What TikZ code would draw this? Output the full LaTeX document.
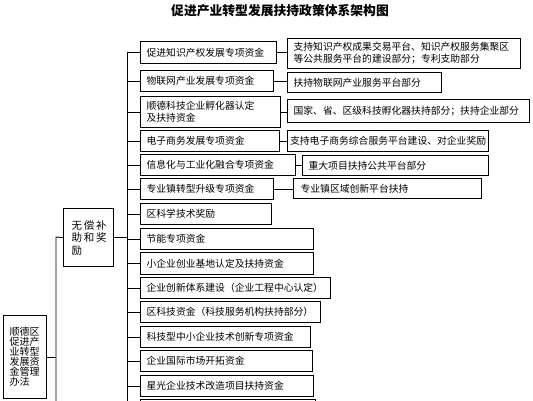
\documentclass[tikz,border=0pt]{standalone}
\usepackage{fontspec}
\newfontfamily\cjk{Noto Sans CJK SC}
\begin{document}
\begin{tikzpicture}[x=1pt,y=-1pt,
  box/.style={draw, line width=1.2pt, inner xsep=6pt, inner ysep=0pt, align=left,
    anchor=north west, font=\cjk\fontsize{9.8}{12}\selectfont},
  conn/.style={line width=0.9pt}]
\useasboundingbox (0,0) rectangle (533,400);
\fill[white] (0,0) rectangle (533,400);
% title
\node[font=\cjk\fontsize{12.8}{14}\bfseries\selectfont, inner sep=0pt] (title) at (280,11) {促进产业转型发展扶持政策体系架构图};
% left column
\node[box, text width=124pt, minimum height=22pt] (l1) at (140,41) {促进知识产权发展专项资金};
\node[box, text width=121pt, minimum height=21pt] (l2) at (140,70) {物联网产业发展专项资金};
\node[box, text width=128pt, minimum height=31pt] (l3) at (140,96) {顺德科技企业孵化器认定\\及扶持资金};
\node[box, text width=127pt, minimum height=21pt] (l4) at (140,130) {电子商务发展专项资金};
\node[box, text width=143pt, minimum height=21pt] (l5) at (140,154) {信息化与工业化融合专项资金};
\node[box, text width=121pt, minimum height=21pt] (l6) at (140,178) {专业镇转型升级专项资金};
\node[box, text width=119pt, minimum height=21pt] (l7) at (140,203) {区科学技术奖励};
\node[box, text width=161pt, minimum height=21pt] (l8) at (140,228) {节能专项资金};
\node[box, text width=161pt, minimum height=22pt] (l9) at (140,252) {小企业创业基地认定及扶持资金};
\node[box, text width=178pt, minimum height=21pt] (l10) at (140,277) {企业创新体系建设（企业工程中心认定）};
\node[box, text width=168pt, minimum height=21pt] (l11) at (140,301) {区科技资金（科技服务机构扶持部分）};
\node[box, text width=158pt, minimum height=21pt] (l12) at (140,326) {科技型中小企业技术创新专项资金};
\node[box, text width=160pt, minimum height=21pt] (l13) at (140,350) {企业国际市场开拓资金};
\node[box, text width=161pt, minimum height=21pt] (l14) at (140,375) {星光企业技术改造项目扶持资金};
\node[box, text width=163pt, minimum height=21pt] (l15) at (140,399) {};
% right column
\node[box, text width=221pt, minimum height=30pt] (r1) at (287,38) {支持知识产权成果交易平台、知识产权服务集聚区\\等公共服务平台的建设部分；专利支助部分};
\node[box, text width=142pt, minimum height=20pt] (r2) at (287,72) {扶持物联网产业服务平台部分};
\node[box, text width=230pt, minimum height=23pt] (r3) at (287,99) {国家、省、区级科技孵化器扶持部分；扶持企业部分};
\node[box, inner xsep=2.5pt, text width=196pt, minimum height=21pt] (r4) at (287,130) {支持电子商务综合服务平台建设、对企业奖励};
\node[box, text width=174pt, minimum height=20pt] (r5) at (302,155) {重大项目扶持公共平台部分};
\node[box, inner xsep=7pt, text width=174pt, minimum height=20pt] (r6) at (293,178) {专业镇区域创新平台扶持};
% middle and law boxes
\node[box, inner xsep=8pt, inner ysep=3pt, text width=34pt, minimum height=58pt, anchor=north west,
  font=\cjk\fontsize{10.5}{12.5}\selectfont] (mid) at (63,208) {无\,偿\,补\\助\,和\,奖\\励\\[14pt]};
\node[box, inner xsep=6pt, text width=31pt, minimum height=83pt,
  font=\cjk\fontsize{10}{10}\selectfont] (law) at (3,315) {顺德区\\促进产\\业转型\\发展资\\金管理\\办法\\[6pt]};
% bus
\coordinate (bus) at (127,52);
\coordinate (busend) at (127,410);
\draw[conn] (bus) -- (busend);
\foreach \n in {l1,l2,l3,l4,l5,l6,l7,l8,l9,l10,l11,l12,l13,l14}
  \draw[conn] (\n.west) -- (\n.west -| bus);
\draw[conn] (l15.west |- 0,409) -- (bus |- 0,409);
% right connectors
\draw[conn] (l1.east) -- (l1.east -| r1.west);
\draw[conn] (l2.east) -- (l2.east -| r2.west);
\draw[conn] (l3.east) -- (l3.east -| r3.west);
\draw[conn] (l4.east) -- (l4.east -| r4.west);
\draw[conn] (l5.east) -- (l5.east -| r5.west);
\draw[conn] (l6.east) -- (l6.east -| r6.west);
% middle connectors
\draw[conn] (mid.east) -- (mid.east -| bus);
\coordinate (lv) at (56,237);
\coordinate (lvend) at (56,410);
\draw[conn] (mid.west) -- (lv) -- (lvend);
\draw[conn] (law.east) -- (law.east -| lv);
\end{tikzpicture}
\end{document}
